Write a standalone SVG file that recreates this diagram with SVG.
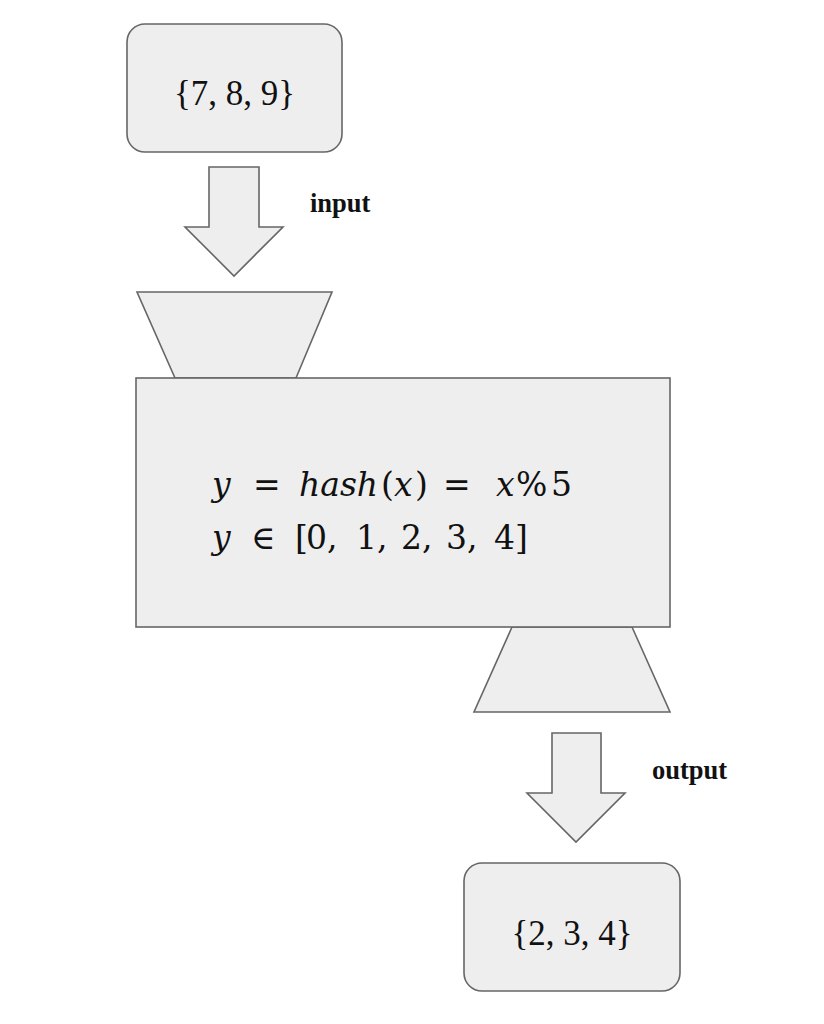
<svg xmlns="http://www.w3.org/2000/svg" width="824" height="1024" viewBox="0 0 824 1024">
<style>
.shape{fill:#eeeeee;stroke:#666666;stroke-width:1.6}
.set{font-family:"Liberation Serif",serif;font-size:35px;fill:#111;text-anchor:middle}
.lbl{font-family:"Liberation Serif",serif;font-size:26.5px;font-weight:bold;fill:#111}
.math{font-family:"DejaVu Serif",serif;font-size:33px;fill:#111}
.it{font-style:italic}
</style>
<rect width="824" height="1024" fill="#ffffff"/>
<g id="input-set">
<rect class="shape" x="127" y="24" width="215" height="128" rx="18"/>
<text class="set" x="234.5" y="105">{7, 8, 9}</text>
</g>
<g id="connectors">
<g id="input-arrow">
<path class="shape" d="M209,167 H259 V227 H283 L234,276 L185,227 H209 Z"/>
<text class="lbl" x="310" y="212">input</text>
</g>
<g id="output-arrow">
<path class="shape" d="M552,733 H601 V793 H625 L576,842 L527,793 H552 Z"/>
<text class="lbl" x="652" y="779">output</text>
</g>
</g>
<g id="hash-function">
<path class="shape" d="M137,292 H332 L296,378 H175 Z"/>
<path class="shape" d="M512,627 H632 L670,712 H474 Z"/>
<rect class="shape" x="136" y="378" width="534" height="249"/>
<text class="math" y="496"><tspan class="it" x="212">y</tspan><tspan x="253">=</tspan><tspan class="it" x="299">hash</tspan><tspan x="381">(</tspan><tspan class="it" x="394">x</tspan><tspan x="415">)</tspan><tspan x="443">=</tspan><tspan class="it" x="496">x</tspan><tspan x="516">%</tspan><tspan x="551">5</tspan></text>
<text class="math" y="549"><tspan class="it" x="212">y</tspan><tspan x="251">∈</tspan><tspan x="295">[</tspan><tspan x="306">0,</tspan><tspan x="356">1,</tspan><tspan x="401">2,</tspan><tspan x="446">3,</tspan><tspan x="494">4</tspan><tspan x="515">]</tspan></text>
</g>
<g id="output-set">
<rect class="shape" x="464" y="863" width="216" height="128" rx="18"/>
<text class="set" x="572" y="945">{2, 3, 4}</text>
</g>
</svg>
